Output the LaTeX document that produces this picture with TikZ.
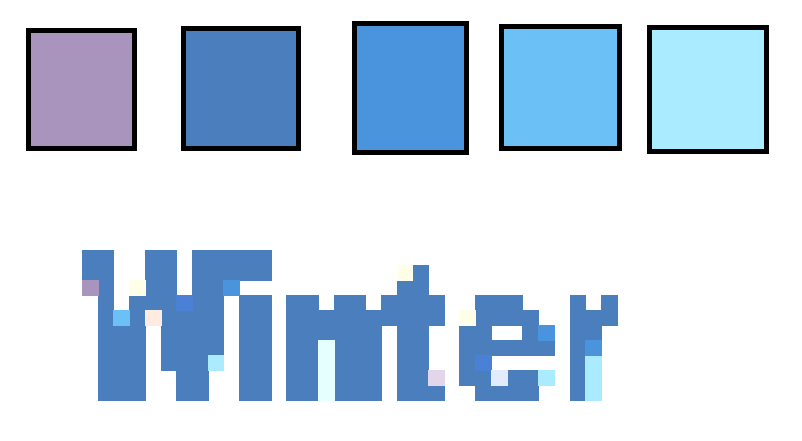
\documentclass[tikz,border=0pt]{standalone}
\definecolor{cPurple}{HTML}{A994BD}
\definecolor{cBlue}{HTML}{4A7EBD}
\definecolor{cBlueB}{HTML}{4A94DE}
\definecolor{cBlueC}{HTML}{6BC0F5}
\definecolor{cBlueD}{HTML}{AAEBFF}
\definecolor{cMid}{HTML}{4A80D6}
\definecolor{cYel}{HTML}{FFFFE8}
\definecolor{cPeach}{HTML}{FFEBE0}
\definecolor{cCyan}{HTML}{E5FFFF}
\definecolor{cLav}{HTML}{E3D6EA}
\definecolor{cVLB}{HTML}{E3EBFF}
\tikzset{
  swatch/.style={draw=black, line width=5pt},
  pix/.style={fill=#1, draw=#1, line width=0.3pt}
}
\newcommand{\pixcol}[2]{% color, list of c/r0/r1
  \foreach \c/\ra/\rb in {#2}{
    \foreach \r in {\ra,...,\rb}{
      \path[pix=#1] ({82+15.735*\c},{250+15*\r}) rectangle ++(15.735,15);
    }
  }
}
\begin{document}
\begin{tikzpicture}[x=1pt,y=-1pt]
\useasboundingbox (0,0) rectangle (802,441);
\fill[white] (0,0) rectangle (802,441);
% swatches
\draw[swatch, fill=cPurple] (28.5,30.5) rectangle (134.5,148.5);
\draw[swatch, fill=cBlue] (183.5,28.5) rectangle (298.5,148.5);
\draw[swatch, fill=cBlueB] (354.5,23.5) rectangle (466.5,152.5);
\draw[swatch, fill=cBlueC] (501.5,26.5) rectangle (619.5,148.5);
\draw[swatch, fill=cBlueD] (649.5,27.5) rectangle (766.5,151.5);
% pixel text "Winter"
\pixcol{cBlue}{0/0/1, 1/0/9, 2/5/9, 3/3/9, 4/0/3, 5/0/7, 6/4/9, 7/0/9, 8/0/6,
  9/0/1, 10/0/1, 10/3/9, 11/0/1, 11/3/9,
  13/3/9, 14/3/9, 15/4/5, 16/3/9, 17/3/9, 18/4/9, 19/3/4, 20/2/9, 21/1/9, 22/3/4, 22/9/9,
  24/5/8, 25/3/6, 25/8/9, 26/3/4, 26/6/6, 26/9/9, 27/3/4, 27/6/6, 27/8/9, 28/4/6, 28/8/9, 29/6/6,
  31/3/9, 32/4/5, 33/3/4}
\pixcol{cPurple}{0/2/2}
\pixcol{cBlueC}{2/4/4}
\pixcol{cYel}{3/2/2, 20/1/1, 24/4/4}
\pixcol{cPeach}{4/4/4}
\pixcol{cMid}{6/3/3, 25/7/7}
\pixcol{cBlueD}{8/7/7, 29/8/8, 32/7/9}
\pixcol{cBlueB}{9/2/2, 29/5/5, 32/6/6}
\pixcol{cCyan}{15/6/9}
\pixcol{cLav}{22/8/8}
\pixcol{cVLB}{26/8/8}
\end{tikzpicture}
\end{document}
